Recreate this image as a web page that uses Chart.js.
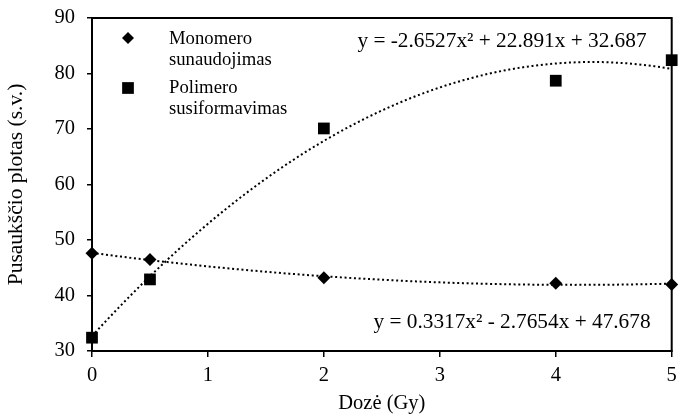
<!DOCTYPE html>
<html>
<head>
<meta charset="utf-8">
<script src="https://cdn.jsdelivr.net/npm/chart.js@4/dist/chart.umd.min.js"></script>
<style>
  html, body { margin: 0; padding: 0; background: #fff; }
  #wrap { width: 680px; height: 416px; }
</style>
</head>
<body>
<div id="wrap"><canvas id="dose"></canvas></div>
<script>
// measured points
const doses = [0, 0.5, 2, 4, 5];
const monomer = [47.6, 46.5, 43.2, 42.2, 42.0];
const polymer = [32.4, 42.9, 70.1, 78.7, 82.4];
// trendline coefficients [a, b, c] for y = a*x^2 + b*x + c
const monomerFit = [0.3317, -2.7654, 47.678];
const polymerFit = [-2.6527, 22.891, 32.687];
const monomerEq = 'y = 0.3317x² - 2.7654x + 47.678';
const polymerEq = 'y = -2.6527x² + 22.891x + 32.687';
const xTicks = [0, 1, 2, 3, 4, 5];
const yTicks = [30, 40, 50, 60, 70, 80, 90];
const legendNames = [['Monomero', 'sunaudojimas'], ['Polimero', 'susiformavimas']];

const serif = 'Liberation Serif';

function pts(xs, ys) {
  return xs.map((x, i) => ({ x: x, y: ys[i] }));
}
function curve(coef) {
  const out = [];
  for (let i = 0; i <= 100; i++) {
    const x = i * 0.05;
    out.push({ x: x, y: coef[0] * x * x + coef[1] * x + coef[2] });
  }
  return out;
}

function drawMarker(ctx, style, x, y, r) {
  ctx.beginPath();
  if (style === 'rectRot') {
    ctx.moveTo(x, y - r); ctx.lineTo(x + r, y); ctx.lineTo(x, y + r); ctx.lineTo(x - r, y);
  } else {
    const s = r * Math.SQRT1_2;
    ctx.rect(x - s, y - s, 2 * s, 2 * s);
  }
  ctx.closePath();
  ctx.fill();
}

const extras = {
  id: 'extras',
  beforeDatasetsDraw(chart) {
    const { ctx, chartArea: a } = chart;
    ctx.save();
    ctx.strokeStyle = '#000';
    ctx.lineWidth = 2;
    ctx.strokeRect(a.left, a.top, a.right - a.left, a.bottom - a.top);
    ctx.restore();
  },
  afterDraw(chart) {
    const { ctx } = chart;
    ctx.save();
    ctx.fillStyle = '#000';
    ctx.textBaseline = 'middle';
    // equations
    ctx.font = '21.3px "' + serif + '"';
    ctx.textAlign = 'center';
    ctx.fillText(polymerEq, 502, 41);
    ctx.fillText(monomerEq, 512, 322);
    // legend
    ctx.font = '18.7px "' + serif + '"';
    ctx.textAlign = 'left';
    drawMarker(ctx, 'rectRot', 128, 38, 6);
    drawMarker(ctx, 'rect', 128, 88, 8.3);
    ctx.fillText(legendNames[0][0], 169, 39);
    ctx.fillText(legendNames[0][1], 169, 60);
    ctx.fillText(legendNames[1][0], 169, 88);
    ctx.fillText(legendNames[1][1], 169, 109);
    ctx.restore();
  }
};

new Chart(document.getElementById('dose'), {
  type: 'scatter',
  data: {
    datasets: [
      {
        label: monomerEq, data: curve(monomerFit), showLine: true,
        borderColor: '#000', borderWidth: 2, borderDash: [2, 2.7],
        pointRadius: 0, clip: false
      },
      {
        label: polymerEq, data: curve(polymerFit), showLine: true,
        borderColor: '#000', borderWidth: 2, borderDash: [2, 2.7],
        pointRadius: 0, clip: false
      },
      {
        label: legendNames[0].join(' '), data: pts(doses, monomer),
        pointStyle: 'rectRot', pointRadius: 6.5, backgroundColor: '#000',
        borderColor: '#000', borderWidth: 0, clip: false
      },
      {
        label: legendNames[1].join(' '), data: pts(doses, polymer),
        pointStyle: 'rect', pointRadius: 8.3, backgroundColor: '#000',
        borderColor: '#000', borderWidth: 0, clip: false
      }
    ]
  },
  options: {
    responsive: true,
    maintainAspectRatio: false,
    animation: false,
    layout: { padding: { left: 0, right: 6, top: 18, bottom: 0 } },
    plugins: { legend: { display: false }, tooltip: { enabled: false } },
    scales: {
      x: {
        type: 'linear', min: 0, max: 5,
        afterBuildTicks: s => { s.ticks = xTicks.map(v => ({ value: v })); },
        afterFit: s => { s.height = 65; s.paddingLeft = 0; s.paddingRight = 0; },
        grid: { display: true, drawOnChartArea: false, drawTicks: true, tickLength: 6, color: '#000', lineWidth: 1.5 },
        border: { display: true, color: '#000', width: 2 },
        ticks: { color: '#000', padding: 6, maxRotation: 0, font: { family: serif, size: 20.5 } },
        title: { display: true, text: 'Dozė (Gy)', color: '#000', padding: { top: 0, bottom: 0 }, font: { family: serif, size: 20.5 } }
      },
      y: {
        type: 'linear', min: 30, max: 90,
        afterBuildTicks: s => { s.ticks = yTicks.map(v => ({ value: v })); },
        afterFit: s => { s.width = 92; s.paddingTop = 0; s.paddingBottom = 0; },
        grid: { display: true, drawOnChartArea: false, drawTicks: true, tickLength: 5, color: '#000', lineWidth: 1.5 },
        border: { display: true, color: '#000', width: 2 },
        ticks: { color: '#000', padding: 12, font: { family: serif, size: 20.5 } },
        title: { display: true, text: 'Pusaukščio plotas (s.v.)', color: '#000', padding: { top: 3, bottom: 0 }, font: { family: serif, size: 21.5 } }
      }
    }
  },
  plugins: [extras]
});
</script>
</body>
</html>
